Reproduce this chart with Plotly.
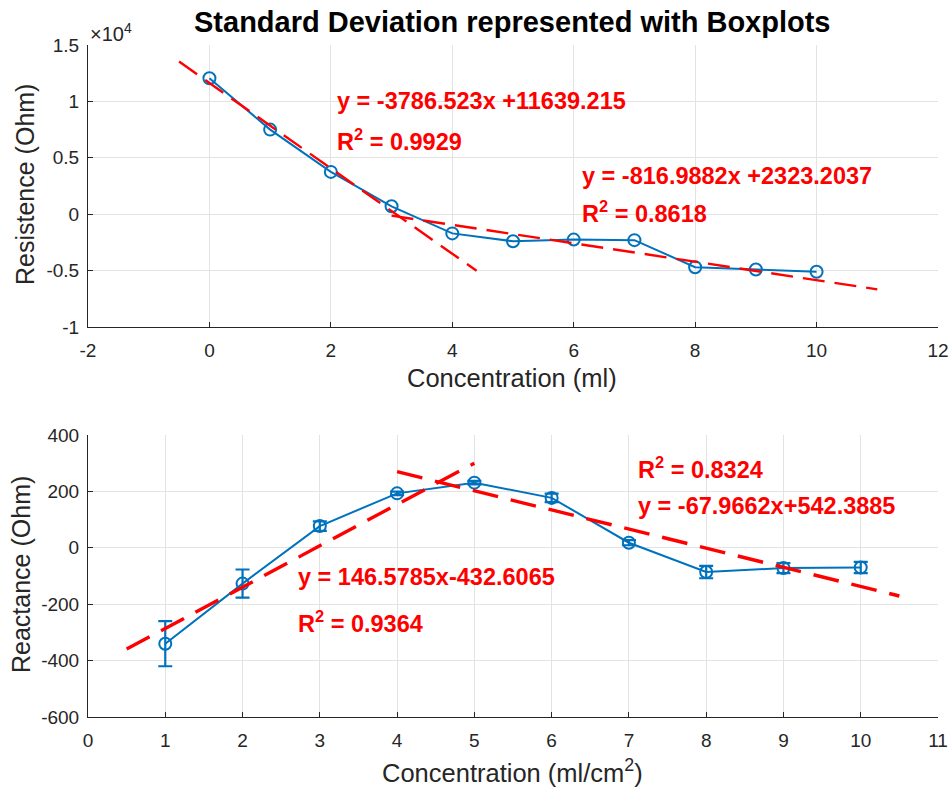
import plotly.graph_objects as go

# ---- data ----
conc_top = [0, 1, 2, 3, 4, 5, 6, 7, 8, 9, 10]
resistance = [12050, 7500, 3750, 700, -1700, -2400, -2250, -2300, -4700, -4900, -5100]

fit1_top_x = [-0.5, 4.4]
fit1_top_y = [13530, -5020]
fit2_top_x = [3.0, 11.0]
fit2_top_y = [-128, -6664]

conc_bot = [1, 2, 3, 4, 5, 6, 7, 8, 9, 10]
reactance = [-340, -127, 77, 193, 231, 177, 18, -86, -72, -70]
reactance_err = [80, 50, 17, 6, 6, 15, 9, 22, 18, 20]

fit1_bot_x = [0.5, 5.0]
fit1_bot_y = [-359, 300]
fit2_bot_x = [4.0, 10.5]
fit2_bot_y = [270, -171]

top_xticks = [-2, 0, 2, 4, 6, 8, 10, 12]
top_xticklabels = ["-2", "0", "2", "4", "6", "8", "10", "12"]
top_yticks = [-10000, -5000, 0, 5000, 10000, 15000]
top_yticklabels = ["-1", "-0.5", "0", "0.5", "1", "1.5"]
bot_xticks = [0, 1, 2, 3, 4, 5, 6, 7, 8, 9, 10, 11]
bot_xticklabels = ["0", "1", "2", "3", "4", "5", "6", "7", "8", "9", "10", "11"]
bot_yticks = [-600, -400, -200, 0, 200, 400]
bot_yticklabels = ["-600", "-400", "-200", "0", "200", "400"]

BLUE = "#0072BD"
RED = "#FF0000"
FONT = "Liberation Sans, Arial, Helvetica, sans-serif"
TXT = "#262626"
W, H = 951, 787

fig = go.Figure()

# top
fig.add_trace(go.Scatter(x=conc_top, y=resistance, mode="lines+markers",
                         line=dict(color=BLUE, width=2),
                         marker=dict(symbol="circle-open", size=12, color=BLUE, line=dict(width=2)),
                         xaxis="x", yaxis="y", showlegend=False))
for fx, fy in [(fit1_top_x, fit1_top_y), (fit2_top_x, fit2_top_y)]:
    fig.add_trace(go.Scatter(x=fx, y=fy, mode="lines",
                             line=dict(color=RED, width=2.4, dash="22px,10px"),
                             xaxis="x", yaxis="y", showlegend=False))

# bottom
fig.add_trace(go.Scatter(x=conc_bot, y=reactance, mode="lines+markers",
                         line=dict(color=BLUE, width=2),
                         marker=dict(symbol="circle-open", size=12, color=BLUE, line=dict(width=2)),
                         error_y=dict(type="data", array=reactance_err, visible=True,
                                      color=BLUE, thickness=2.2, width=7),
                         xaxis="x2", yaxis="y2", showlegend=False))
for fx, fy in [(fit1_bot_x, fit1_bot_y), (fit2_bot_x, fit2_bot_y)]:
    fig.add_trace(go.Scatter(x=fx, y=fy, mode="lines",
                             line=dict(color=RED, width=3.4, dash="26px,13px"),
                             xaxis="x2", yaxis="y2", showlegend=False))

axis_common = dict(showgrid=True, gridcolor="#E3E3E3", gridwidth=1,
                   showline=True, linecolor="#262626", linewidth=1,
                   ticks="inside", ticklen=5, tickcolor="#262626",
                   tickfont=dict(family=FONT, size=19, color=TXT),
                   zeroline=False, mirror=False, automargin=False)

xd = [88 / W, 938 / W]
fig.update_layout(
    width=W, height=H,
    margin=dict(l=0, r=0, t=0, b=0),
    paper_bgcolor="white", plot_bgcolor="white",
    font=dict(family=FONT, color=TXT),
    xaxis=dict(domain=xd, range=[-2, 12], tickvals=top_xticks, ticktext=top_xticklabels,
               anchor="y", ticklabelstandoff=6, **axis_common),
    yaxis=dict(domain=[1 - 327 / H, 1 - 45 / H], range=[-10000, 15000], anchor="x",
               tickvals=top_yticks, ticktext=top_yticklabels, ticklabelstandoff=4,
               **axis_common),
    xaxis2=dict(domain=xd, range=[0, 11], tickvals=bot_xticks, ticktext=bot_xticklabels,
                anchor="y2", ticklabelstandoff=6, **axis_common),
    yaxis2=dict(domain=[1 - 717 / H, 1 - 435 / H], range=[-600, 400], anchor="x2",
                tickvals=bot_yticks, ticktext=bot_yticklabels, ticklabelstandoff=4,
                **axis_common),
)

ann_font = dict(family=FONT, size=23.5, color=RED)
annots = [
    ("x", "y", 2.07, 10027, "<b>y = -3786.523x +11639.215</b>"),
    ("x", "y", 2.07, 6566, "<b>R<sup>2</sup> = 0.9929</b>"),
    ("x", "y", 6.10, 3372, "<b>y = -816.9882x +2323.2037</b>"),
    ("x", "y", 6.10, 177, "<b>R<sup>2</sup> = 0.8618</b>"),
    ("x2", "y2", 7.09, 282, "<b>R<sup>2</sup> = 0.8324</b>"),
    ("x2", "y2", 7.09, 147, "<b>y = -67.9662x+542.3885</b>"),
    ("x2", "y2", 2.69, -105, "<b>y = 146.5785x-432.6065</b>"),
    ("x2", "y2", 2.69, -264, "<b>R<sup>2</sup> = 0.9364</b>"),
]
for xr, yr, ax, ay, t in annots:
    fig.add_annotation(xref=xr, yref=yr, x=ax, y=ay, text=t, showarrow=False,
                       xanchor="left", yanchor="middle", font=ann_font)

def paper_text(px, py, text, size, color=TXT, angle=0, xanchor="center"):
    fig.add_annotation(xref="paper", yref="paper", x=px / W, y=1 - py / H,
                       text=text, showarrow=False, xanchor=xanchor, yanchor="middle",
                       textangle=angle, font=dict(family=FONT, size=size, color=color))

paper_text(512, 22, "<b>Standard Deviation represented with Boxplots</b>", 29, color="black")
paper_text(88, 32, "\u00d710<sup>4</sup>", 20, xanchor="left")
paper_text(512, 378, "Concentration (ml)", 25.5)
paper_text(512, 771, "Concentration (ml/cm<sup>2</sup>)", 25.5)
paper_text(25, 185, "Resistence (Ohm)", 25, angle=-90)
paper_text(21, 575, "Reactance (Ohm)", 25, angle=-90)

fig.write_html("out.html")
